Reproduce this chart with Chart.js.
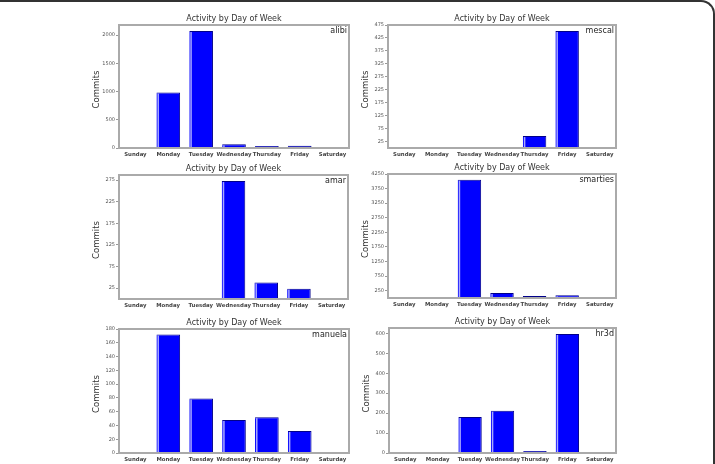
<!DOCTYPE html>
<html>
<head>
<meta charset="utf-8">
<script src="https://cdn.jsdelivr.net/npm/chart.js@4"></script>
<style>
html, body { margin: 0; padding: 0; background: #fff; }
#wrap { position: relative; width: 715px; height: 464px; overflow: hidden; }
#frame { position: absolute; left: -20px; top: 0; width: 735px; height: 480px; border-top: 2px solid #333; border-right: 2px solid #333; border-top-right-radius: 14px; box-sizing: border-box; }
canvas { position: absolute; }
</style>
</head>
<body>
<div id="wrap"><div id="frame"></div></div>
<script>
var days = ["Sunday", "Monday", "Tuesday", "Wednesday", "Thursday", "Friday", "Saturday"];

var alibi    = [0, 982, 2071, 65, 35, 38, 0];
var mescal   = [0, 0, 0, 0, 46, 452, 0];
var amar     = [0, 0, 0, 273, 38, 24, 0];
var smarties = [0, 0, 4055, 172, 70, 92, 0];
var manuela  = [0, 172, 79, 48, 52, 32, 0];
var hr3d     = [0, 0, 181, 212, 10, 597, 2];

var alibiTicks    = [0, 500, 1000, 1500, 2000];
var mescalTicks   = [25, 75, 125, 175, 225, 275, 325, 375, 425, 475];
var amarTicks     = [25, 75, 125, 175, 225, 275];
var smartiesTicks = [250, 750, 1250, 1750, 2250, 2750, 3250, 3750, 4250];
var manuelaTicks  = [0, 20, 40, 60, 80, 100, 120, 140, 160, 180];
var hr3dTicks     = [0, 100, 200, 300, 400, 500, 600];

var names  = ["alibi", "mescal", "amar", "smarties", "manuela", "hr3d"];
var series = [alibi, mescal, amar, smarties, manuela, hr3d];
var yTicks = [alibiTicks, mescalTicks, amarTicks, smartiesTicks, manuelaTicks, hr3dTicks];
var yMax   = [2178, 475, 287, 4250, 180, 627];

// plot area of each panel: left, top, width, height
var boxes = [
  [119, 25, 230, 123], [388, 25, 228, 123],
  [119, 175, 229, 124], [388, 174, 228, 124],
  [119, 329, 230, 124], [389, 328, 227, 125]
];

var panelDecor = {
  id: "panelDecor",
  afterDatasetsDraw: function (chart) {
    var ctx = chart.ctx;
    ctx.save();
    chart.getDatasetMeta(0).data.forEach(function (bar) {
      var h = bar.base - bar.y;
      if (h < 2) return;
      ctx.fillStyle = "#a8a8ff";
      ctx.fillRect(bar.x - bar.width / 2 + 1, bar.y + 1, 1.5, h - 1);
    });
    ctx.restore();
  },
  afterDraw: function (chart, args, opts) {
    var a = chart.chartArea, ctx = chart.ctx;
    ctx.save();
    ctx.strokeStyle = "#aaaaaa";
    ctx.lineWidth = 2;
    ctx.strokeRect(a.left, a.top, a.right - a.left, a.bottom - a.top);
    ctx.fillStyle = "#333";
    ctx.font = '8px "DejaVu Sans"';
    ctx.textAlign = "center";
    ctx.textBaseline = "middle";
    ctx.fillText("Activity by Day of Week", (a.left + a.right) / 2, a.top - 6);
    ctx.textAlign = "right";
    ctx.fillStyle = "#222";
    ctx.fillText(opts.name, a.right - 2, a.top + 6);
    ctx.translate(a.left - 22, (a.top + a.bottom) / 2 + 3);
    ctx.rotate(-Math.PI / 2);
    ctx.textAlign = "center";
    ctx.fillStyle = "#333";
    ctx.font = '8.5px "DejaVu Sans"';
    ctx.fillText("Commits", 0, 0);
    ctx.restore();
  }
};

var wrap = document.getElementById("wrap");

boxes.forEach(function (b, i) {
  var cv = document.createElement("canvas");
  cv.width = b[2] + 48;
  cv.height = b[3] + 34;
  cv.style.left = (b[0] - 40) + "px";
  cv.style.top = (b[1] - 20) + "px";
  wrap.appendChild(cv);

  var ticks = yTicks[i];

  new Chart(cv, {
    type: "bar",
    data: {
      labels: days,
      datasets: [{
        data: series[i],
        backgroundColor: "#0000ff",
        borderColor: "#00008a",
        borderWidth: { top: 1, right: 1, left: 0, bottom: 0 },
        barPercentage: 0.72,
        categoryPercentage: 1
      }]
    },
    options: {
      responsive: false,
      animation: false,
      devicePixelRatio: 1,
      layout: { padding: { left: 0, top: 20, right: 8, bottom: 0 } },
      plugins: {
        legend: { display: false },
        title: { display: false },
        tooltip: { enabled: false },
        panelDecor: { name: names[i] }
      },
      scales: {
        x: {
          grid: { display: false, drawTicks: false },
          border: { display: false },
          ticks: {
            font: { family: "DejaVu Sans", size: 5.4, weight: "bold" },
            color: "#444",
            padding: 3,
            maxRotation: 0,
            autoSkip: false
          },
          afterFit: function (s) { s.height = 14; }
        },
        y: {
          min: 0,
          max: yMax[i],
          afterBuildTicks: function (s) {
            s.ticks = ticks.map(function (v) { return { value: v }; });
          },
          afterFit: function (s) { s.width = 40; },
          grid: { display: true, drawOnChartArea: false, drawTicks: true, tickLength: 3, color: "#999" },
          border: { display: true, color: "#aaa", width: 2 },
          ticks: {
            font: { family: "DejaVu Sans", size: 5 },
            color: "#555",
            padding: 1,
            callback: function (v) { return String(v); }
          }
        }
      }
    },
    plugins: [panelDecor]
  });
});
</script>
</body>
</html>
